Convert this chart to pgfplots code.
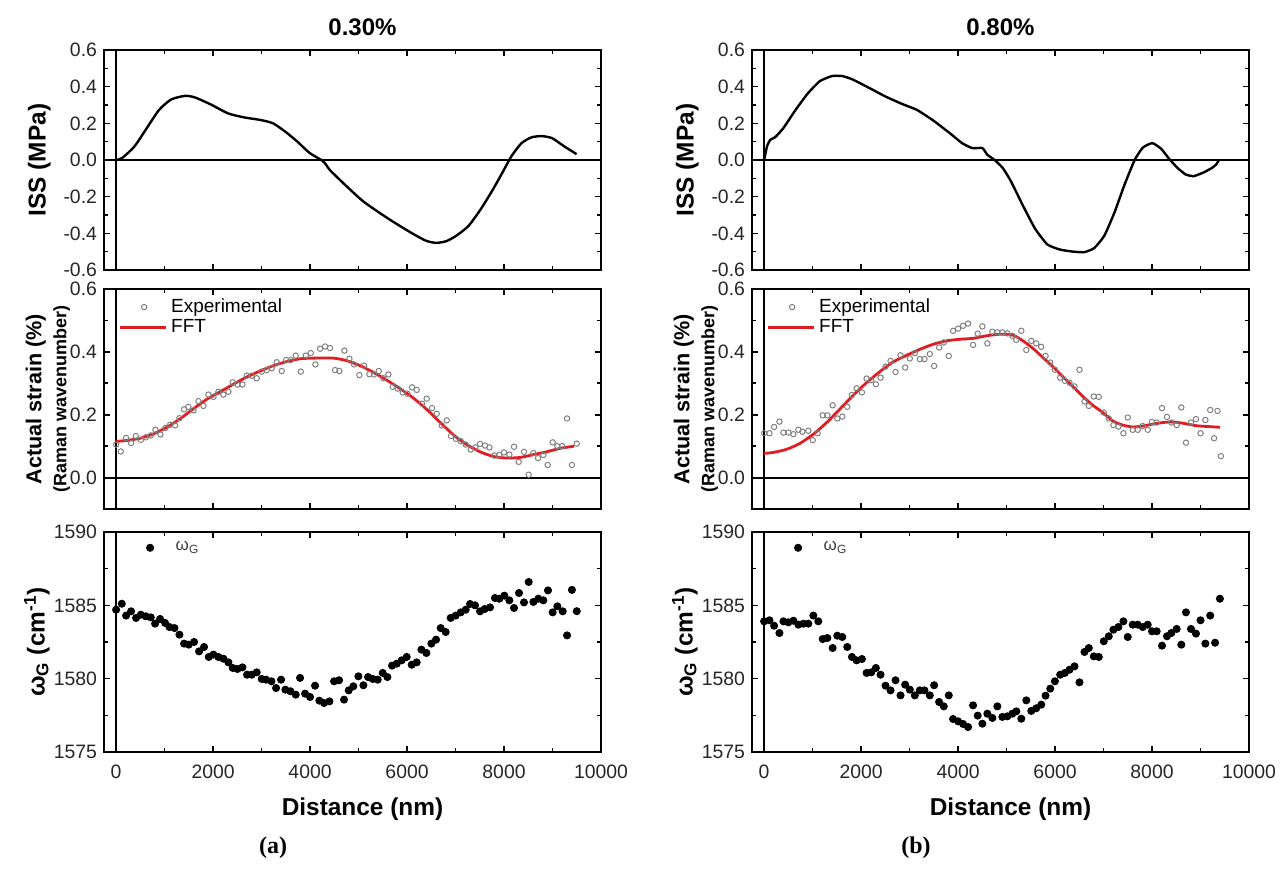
\documentclass[border=0pt]{standalone}
\usepackage{pgfplots}
\pgfplotsset{compat=1.18}
\usepackage{pgfplotstable}
\usepackage{fontspec}
\setmainfont{Liberation Sans}
\newfontfamily\timesfont{Liberation Serif}
\definecolor{fftred}{RGB}{222,30,35}
\definecolor{expgray}{RGB}{128,128,128}

\pgfplotstableread{
x y
0 0
126 0.011
378 0.074
630 0.173
882 0.272
1134 0.33
1428 0.35
1639 0.34
1975 0.30
2311 0.254
2647 0.232
2983 0.218
3235 0.20
3487 0.155
3739 0.10
3992 0.038
4244 -0.002
4328 -0.025
4412 -0.056
4748 -0.142
5084 -0.223
5420 -0.286
5756 -0.344
6092 -0.398
6387 -0.44
6597 -0.452
6807 -0.443
7017 -0.413
7269 -0.359
7521 -0.268
7773 -0.16
7983 -0.061
8151 0.02
8361 0.092
8571 0.124
8782 0.13
8992 0.119
9244 0.074
9496 0.032
}\issA

\pgfplotstableread{
x y
0 0
59 0.074
126 0.11
226 0.124
394 0.173
645 0.272
897 0.362
1148 0.43
1400 0.458
1609 0.458
1819 0.44
2154 0.395
2490 0.348
2825 0.308
3160 0.272
3495 0.214
3831 0.146
4082 0.092
4292 0.065
4501 0.065
4602 0.029
4753 0.0
4920 -0.043
5088 -0.115
5340 -0.25
5591 -0.376
5842 -0.461
6094 -0.488
6345 -0.499
6597 -0.503
6806 -0.481
7016 -0.413
7226 -0.286
7435 -0.133
7645 0.002
7812 0.068
8005 0.092
8189 0.061
8357 0.005
8525 -0.043
8692 -0.079
8860 -0.088
9070 -0.067
9237 -0.043
9321 -0.025
9380 0.0
}\issB

\pgfplotstableread{
x y
0 0.115
220 0.118
495 0.125
770 0.139
1045 0.160
1320 0.187
1595 0.219
1869 0.249
2144 0.273
2419 0.297
2694 0.320
2969 0.339
3244 0.356
3519 0.369
3794 0.378
4069 0.380
4481 0.380
4756 0.372
5031 0.356
5306 0.335
5581 0.310
5856 0.283
6131 0.253
6405 0.217
6680 0.176
6955 0.136
7230 0.105
7505 0.082
7780 0.067
8055 0.062
8330 0.064
8605 0.073
8880 0.082
9155 0.093
9450 0.100
}\fftA

\pgfplotstableread{
x y
0 0.077
192 0.080
467 0.090
741 0.109
1015 0.138
1290 0.175
1564 0.218
1839 0.262
2113 0.302
2388 0.337
2662 0.368
2937 0.389
3211 0.408
3485 0.424
3760 0.435
4034 0.440
4309 0.443
4583 0.451
4858 0.456
5132 0.453
5338 0.435
5544 0.411
5750 0.382
5955 0.353
6161 0.321
6367 0.290
6573 0.258
6779 0.230
6985 0.207
7190 0.180
7396 0.167
7602 0.161
7808 0.164
8014 0.170
8220 0.175
8425 0.177
8631 0.173
8837 0.167
8974 0.164
9200 0.162
9400 0.160
}\fftB

\pgfplotstableread{
x y
0 0.105
96 0.083
206 0.126
309 0.110
405 0.132
509 0.120
612 0.128
715 0.134
811 0.152
914 0.137
1017 0.158
1113 0.168
1216 0.166
1306 0.189
1402 0.217
1491 0.225
1595 0.214
1698 0.243
1801 0.228
1904 0.264
2007 0.257
2110 0.273
2213 0.264
2316 0.273
2405 0.303
2502 0.296
2605 0.296
2694 0.324
2797 0.324
2900 0.316
3003 0.337
3106 0.342
3210 0.348
3313 0.367
3416 0.339
3505 0.374
3601 0.374
3704 0.388
3808 0.337
3911 0.388
4014 0.396
4110 0.360
4206 0.410
4309 0.417
4412 0.412
4515 0.342
4605 0.339
4708 0.404
4811 0.378
4907 0.360
5017 0.326
5113 0.356
5223 0.329
5320 0.328
5416 0.339
5512 0.316
5615 0.328
5704 0.289
5807 0.283
5911 0.271
6007 0.267
6103 0.287
6199 0.279
6309 0.235
6405 0.251
6515 0.221
6612 0.203
6715 0.166
6818 0.182
6907 0.132
7010 0.123
7107 0.116
7210 0.105
7313 0.089
7409 0.096
7505 0.107
7608 0.102
7698 0.096
7801 0.070
7904 0.072
8000 0.080
8110 0.073
8206 0.098
8302 0.050
8412 0.082
8509 0.009
8605 0.078
8701 0.062
8811 0.072
8900 0.040
9003 0.112
9100 0.100
9200 0.100
9300 0.188
9400 0.040
9500 0.108
}\expA

\pgfplotstableread{
x y
0 0.141
110 0.141
206 0.161
316 0.178
398 0.143
501 0.143
604 0.138
707 0.152
789 0.146
912 0.149
1002 0.119
1105 0.141
1208 0.198
1304 0.198
1413 0.230
1509 0.188
1612 0.194
1715 0.225
1811 0.263
1907 0.284
2017 0.271
2113 0.315
2209 0.310
2305 0.297
2401 0.318
2504 0.353
2607 0.371
2710 0.336
2813 0.389
2909 0.350
3005 0.379
3108 0.396
3211 0.377
3307 0.377
3417 0.393
3506 0.355
3609 0.414
3705 0.430
3808 0.387
3897 0.467
4000 0.474
4103 0.483
4206 0.490
4309 0.422
4405 0.458
4501 0.481
4604 0.427
4707 0.464
4810 0.462
4913 0.462
5016 0.459
5119 0.451
5201 0.438
5304 0.467
5407 0.406
5510 0.435
5612 0.427
5715 0.416
5804 0.387
5901 0.366
5997 0.343
6106 0.318
6202 0.308
6298 0.302
6401 0.290
6504 0.343
6607 0.242
6696 0.228
6799 0.258
6902 0.257
7005 0.207
7108 0.188
7204 0.167
7307 0.162
7410 0.141
7499 0.191
7602 0.152
7705 0.152
7808 0.164
7911 0.152
8000 0.177
8096 0.175
8206 0.221
8309 0.193
8398 0.175
8508 0.167
8604 0.223
8700 0.111
8803 0.175
8906 0.186
9000 0.141
9100 0.183
9200 0.215
9280 0.125
9350 0.212
9420 0.068
}\expB

\pgfplotstableread{
x y
0 1584.70
117 1585.11
206 1584.30
309 1584.59
412 1584.14
509 1584.36
612 1584.25
715 1584.18
804 1583.75
907 1584.07
1010 1583.80
1100 1583.52
1203 1583.45
1306 1583.00
1402 1582.39
1498 1582.32
1608 1582.50
1711 1581.86
1814 1582.16
1911 1581.48
2007 1581.64
2110 1581.48
2213 1581.36
2316 1581.11
2405 1580.73
2502 1580.66
2605 1580.77
2701 1580.27
2797 1580.27
2900 1580.43
3003 1579.98
3093 1579.93
3203 1579.82
3299 1579.36
3402 1579.93
3491 1579.25
3594 1579.14
3704 1578.91
3794 1580.05
3897 1578.98
4000 1578.75
4103 1579.52
4192 1578.50
4289 1578.34
4399 1578.45
4495 1579.82
4598 1579.89
4701 1578.57
4797 1579.20
4893 1579.48
4997 1580.16
5100 1579.55
5196 1580.11
5292 1579.98
5395 1579.93
5498 1580.39
5595 1580.11
5691 1580.89
5787 1581.02
5890 1581.25
5993 1581.48
6096 1580.95
6199 1581.11
6296 1581.98
6399 1581.75
6502 1582.39
6598 1582.66
6694 1583.45
6797 1583.18
6900 1584.14
7003 1584.30
7107 1584.52
7210 1584.70
7299 1585.09
7402 1585.00
7505 1584.59
7601 1584.75
7711 1584.86
7814 1585.50
7904 1585.45
8007 1585.66
8110 1585.34
8206 1584.82
8309 1585.84
8412 1585.20
8509 1586.59
8605 1585.23
8708 1585.45
8811 1585.34
8907 1586.02
9003 1584.52
9100 1584.93
9210 1584.59
9300 1582.95
9400 1586.05
9500 1584.60
}\omA

\pgfplotstableread{
x y
0 1583.91
110 1583.98
206 1583.61
316 1583.11
398 1583.91
501 1583.84
604 1583.95
707 1583.68
810 1583.75
912 1583.75
1015 1584.30
1118 1583.91
1208 1582.70
1304 1582.77
1413 1582.09
1509 1582.93
1612 1582.84
1715 1582.16
1811 1581.48
1907 1581.25
2017 1581.34
2113 1580.39
2209 1580.43
2305 1580.73
2401 1580.27
2504 1579.52
2607 1579.20
2710 1579.89
2813 1578.86
2909 1579.59
3005 1579.25
3108 1578.86
3211 1579.20
3307 1579.20
3417 1578.86
3506 1579.55
3609 1578.41
3705 1578.11
3808 1578.86
3897 1577.25
4000 1577.09
4103 1576.91
4206 1576.70
4309 1578.18
4405 1577.48
4501 1576.93
4604 1577.61
4707 1577.32
4810 1578.11
4913 1577.39
5016 1577.43
5119 1577.61
5201 1577.77
5304 1577.27
5407 1578.52
5510 1577.80
5612 1577.98
5715 1578.23
5804 1578.84
5901 1579.32
5997 1579.82
6106 1580.27
6202 1580.39
6298 1580.61
6401 1580.84
6504 1579.75
6607 1581.82
6696 1582.09
6799 1581.52
6902 1581.48
7005 1582.55
7108 1582.89
7204 1583.34
7307 1583.52
7410 1583.91
7499 1582.84
7602 1583.68
7705 1583.68
7808 1583.52
7911 1583.68
8000 1583.23
8096 1583.23
8206 1582.25
8309 1582.89
8398 1583.11
8508 1583.39
8604 1582.32
8700 1584.52
8803 1583.39
8906 1583.07
9000 1583.98
9100 1582.39
9200 1584.30
9300 1582.45
9400 1585.45
}\omB

\pgfplotsset{
  panel/.style={
    scale only axis, width=248.5pt, height=110pt,
    xmin=-250, xmax=10000,
    xtick={0,2000,...,10000}, minor xtick={1000,3000,...,9000},
    xtick pos=both, ytick pos=both, tick align=inside,
    major tick length=3pt, minor tick length=1.8pt,
    every tick/.style={black, line width=0.8pt},
    axis line style={line width=1pt},
    tick label style={font=\fontsize{9.7}{11}\selectfont, text=black!85},
    /pgf/number format/assume math mode=true,
    /pgf/number format/set thousands separator={},
    scaled ticks=false,
    label style={font=\bfseries\fontsize{12.2}{13}\selectfont},
    title style={font=\bfseries\fontsize{12}{13}\selectfont, at={(axis description cs:0.5,1)}, anchor=center, yshift=5.5pt},
    legend style={at={(axis description cs:0.025,0.985)}, anchor=north west, draw=none, fill=none,
      font=\fontsize{9.5}{11}\selectfont, row sep=-2pt, inner sep=1pt},
    legend cell align=left,
    legend image code/.code={\draw[mark repeat=2,mark phase=2,##1] plot coordinates {(0cm,0cm) (0.42cm,0cm) (0.8cm,0cm)};},
  },
  isspanel/.style={panel, ymin=-0.6, ymax=0.6,
    ytick={-0.6,-0.4,...,0.6}, minor ytick={-0.5,-0.3,...,0.5},
    yticklabel style={/pgf/number format/fixed, /pgf/number format/fixed zerofill, /pgf/number format/precision=1},
    xticklabels={}, ylabel={ISS (MPa)},
    ylabel style={at={(axis description cs:-0.13,0.5)}, anchor=center}},
  strainpanel/.style={panel, ymin=-0.1, ymax=0.6,
    ytick={0,0.2,0.4,0.6}, minor ytick={-0.1,0.1,0.3,0.5},
    yticklabel style={/pgf/number format/fixed, /pgf/number format/fixed zerofill, /pgf/number format/precision=1},
    xticklabels={},
    ylabel={Actual strain (\%)\\[1pt]{\fontsize{9}{9}\selectfont (Raman wavenumber)}},
    ylabel style={at={(axis description cs:-0.113,0.5)}, anchor=center, align=center,
      font=\bfseries\fontsize{10.8}{11.5}\selectfont}},
  wpanel/.style={panel, ymin=1575, ymax=1590,
    ytick={1575,1580,1585,1590}, minor ytick={1577.5,1582.5,1587.5},
    xticklabel style={yshift=-3pt},
    xlabel={Distance (nm)},
    xlabel style={at={(axis description cs:0.5,0)}, anchor=center, yshift=-28.5pt, xshift=5pt},
    ylabel={ω\textsubscript{G} (cm\textsuperscript{-1})},
    ylabel style={at={(axis description cs:-0.135,0.5)}, anchor=center},
    legend image code/.code={\path[draw=none] (0cm,0cm) -- (0.93cm,0cm); \fill[black] (0.55cm,0cm) circle (1.8pt);}},
}

\begin{document}
\begin{tikzpicture}
\useasboundingbox (0,0) rectangle (640.5pt,444pt);
% ---------- left column ----------
\begin{axis}[isspanel, at={(52pt,309pt)}, anchor=south west, title={0.30\%}, title style={xshift=5pt}]
\addplot[black, line width=1pt, forget plot] coordinates {(-250,0) (10000,0)};
\addplot[black, line width=1pt, forget plot] coordinates {(0,-0.6) (0,0.6)};
\addplot[black, line width=1.2pt, smooth, tension=0.4] table {\issA};
\end{axis}
\begin{axis}[strainpanel, at={(52pt,189.5pt)}, anchor=south west]
\addplot[black, line width=1pt, forget plot] coordinates {(-250,0) (10000,0)};
\addplot[black, line width=1pt, forget plot] coordinates {(0,-0.1) (0,0.6)};
\addplot[only marks, mark=o, mark size=1.35pt, expgray, mark options={line width=0.5pt}] table {\expA};
\addlegendentry{Experimental}
\addplot[fftred, line width=1.4pt, smooth, tension=0.4] table {\fftA};
\addlegendentry{FFT}
\end{axis}
\begin{axis}[wpanel, at={(52pt,68pt)}, anchor=south west]
\addplot[black, line width=1pt, forget plot] coordinates {(0,1575) (0,1590)};
\addplot[only marks, mark=*, mark size=1.8pt, black] table {\omA};
\addlegendentry{\textcolor{black!75}{\fontsize{8.5}{10}\selectfont ω\textsubscript{G}}}
\end{axis}
% ---------- right column ----------
\begin{axis}[isspanel, at={(376pt,309pt)}, anchor=south west, title={0.80\%}]
\addplot[black, line width=1pt, forget plot] coordinates {(-250,0) (10000,0)};
\addplot[black, line width=1pt, forget plot] coordinates {(0,-0.6) (0,0.6)};
\addplot[black, line width=1.2pt, smooth, tension=0.3] table {\issB};
\end{axis}
\begin{axis}[strainpanel, at={(376pt,189.5pt)}, anchor=south west]
\addplot[black, line width=1pt, forget plot] coordinates {(-250,0) (10000,0)};
\addplot[black, line width=1pt, forget plot] coordinates {(0,-0.1) (0,0.6)};
\addplot[only marks, mark=o, mark size=1.35pt, expgray, mark options={line width=0.5pt}] table {\expB};
\addlegendentry{Experimental}
\addplot[fftred, line width=1.4pt, smooth, tension=0.4] table {\fftB};
\addlegendentry{FFT}
\end{axis}
\begin{axis}[wpanel, at={(376pt,68pt)}, anchor=south west]
\addplot[black, line width=1pt, forget plot] coordinates {(0,1575) (0,1590)};
\addplot[only marks, mark=*, mark size=1.8pt, black] table {\omB};
\addlegendentry{\textcolor{black!75}{\fontsize{8.5}{10}\selectfont ω\textsubscript{G}}}
\end{axis}
\node[font=\timesfont\bfseries\fontsize{12}{13}\selectfont] at (136.5pt,20pt) {(a)};
\node[font=\timesfont\bfseries\fontsize{12}{13}\selectfont] at (458pt,20pt) {(b)};
\end{tikzpicture}
\end{document}
